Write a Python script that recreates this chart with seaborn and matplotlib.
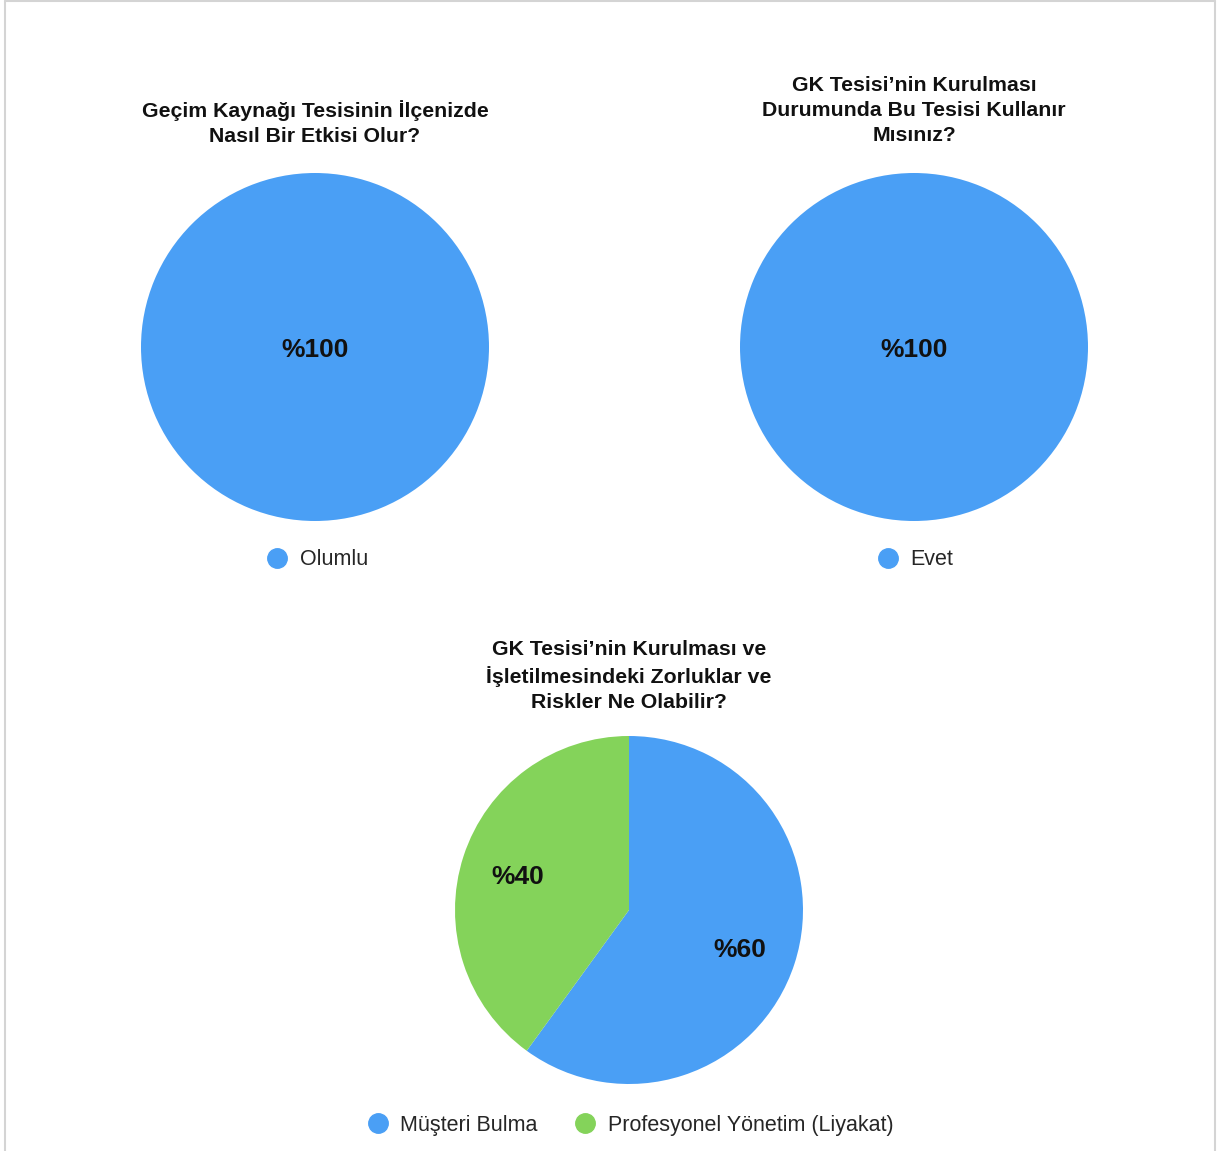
import matplotlib
matplotlib.use("Agg")
import matplotlib.pyplot as plt
from matplotlib.lines import Line2D
import seaborn as sns

sns.set_theme(style="white")
plt.rcParams['font.family'] = ['Liberation Sans', 'DejaVu Sans']

# veriler
titles = [
    "Geçim Kaynağı Tesisinin İlçenizde\nNasıl Bir Etkisi Olur?",
    "GK Tesisi’nin Kurulması\nDurumunda Bu Tesisi Kullanır\nMısınız?",
    "GK Tesisi’nin Kurulması ve\nİşletilmesindeki Zorluklar ve\nRiskler Ne Olabilir?",
]
labels_1 = ["Olumlu"]
values_1 = [100]
labels_2 = ["Evet"]
values_2 = [100]
labels_3 = ["Müşteri Bulma", "Profesyonel Yönetim (Liyakat)"]
values_3 = [60, 40]

colors = sns.color_palette(["#4A9FF5", "#84D35A"])

W, H = 1217, 1151
fig = plt.figure(figsize=(W / 100, H / 100), dpi=100)
fig.patch.set_facecolor("white")

# ince gri çerçeve
border = dict(color="#d4d4d4", lw=1.5, transform=fig.transFigure)
fig.add_artist(Line2D([5 / W, 1215 / W], [1 - 1 / H, 1 - 1 / H], **border))
fig.add_artist(Line2D([5 / W, 5 / W], [0, 1 - 1 / H], **border))
fig.add_artist(Line2D([1215 / W, 1215 / W], [0, 1 - 1 / H], **border))


def draw_pie(cx, cy, r, values, labels, title, title_y, legend_y, legend_x):
    ax = fig.add_axes([(cx - r) / W, (H - cy - r) / H, 2 * r / W, 2 * r / H])
    n = len(values)
    pct = 0.0 if n == 1 else 0.67
    wedges, _, autotexts = ax.pie(
        values, colors=colors[:n], startangle=90, counterclock=False,
        autopct=lambda p: f"%{p:.0f}", pctdistance=pct,
        wedgeprops=dict(linewidth=0),
        textprops=dict(fontsize=19, fontweight="bold", color="#111111"))
    for t in autotexts:
        x, y = t.get_position()
        t.set_position((x, y - 0.02))
    ax.set_xlim(-1, 1)
    ax.set_ylim(-1, 1)
    ax.set_aspect("equal")
    ax.axis("off")
    fig.text(cx / W, 1 - title_y / H, title, ha="center", va="top",
             fontsize=15.3, fontweight="bold", color="#111111", linespacing=1.4)
    handles = [Line2D([], [], marker="o", ls="", markersize=14,
                      markerfacecolor=colors[i], markeredgecolor=colors[i])
               for i in range(n)]
    fig.legend(handles, labels, loc="center", ncol=n,
               bbox_to_anchor=(legend_x / W, 1 - legend_y / H),
               frameon=False, fontsize=15.5, handletextpad=0.45,
               columnspacing=1.6, handlelength=1.2)


draw_pie(315, 347, 174, values_1, labels_1, titles[0], 100, 560, 316)
draw_pie(914, 347, 174, values_2, labels_2, titles[1], 76, 560, 914)
draw_pie(629, 910, 174, values_3, labels_3, titles[2], 640, 1125, 629)

plt.savefig("out.png", dpi=100)
